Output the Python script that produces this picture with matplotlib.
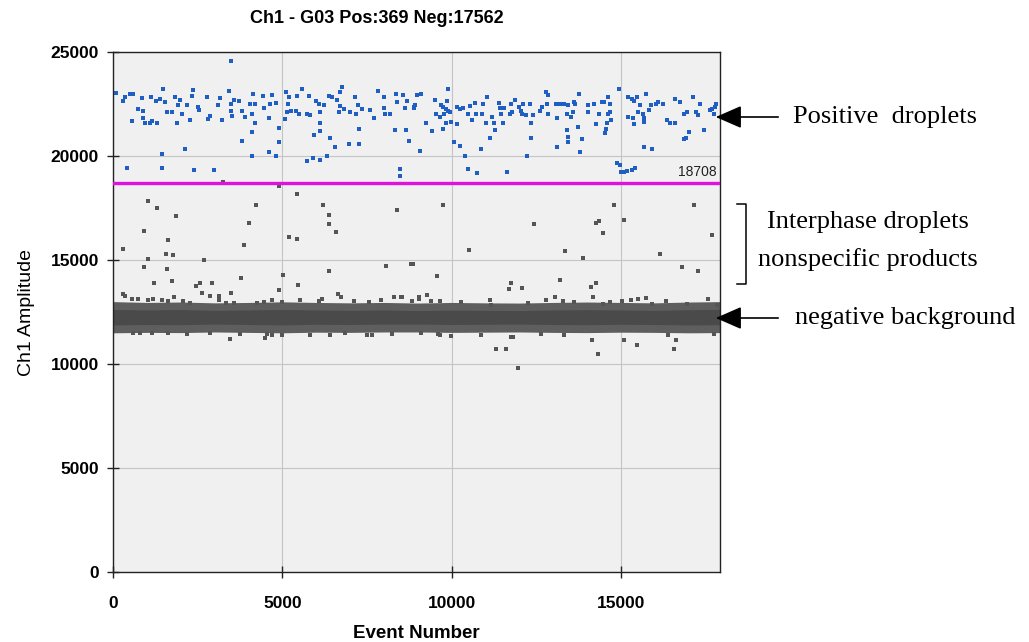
import matplotlib
matplotlib.use("Agg")
import matplotlib.pyplot as plt
import numpy as np

# ---------------- data ----------------
title = "Ch1 - G03 Pos:369 Neg:17562"
threshold = 18708
n_events = 17931

pos_x = [89, 286, 355, 503, 582, 553, 750, 848, 897, 897, 947, 1094, 1144, 1114, 1292, 1272, 1390, 1490, 1540, 1607,
         1736, 1835, 1933, 1983, 1884, 2032, 2200, 2278, 2327, 2377, 2525, 2555, 2771, 2820, 2870, 3116, 3166, 3215,
         3432, 3482, 3482, 3511, 3580, 3708, 3807, 3906, 4034, 4133, 4103, 4202, 4429, 4202, 4103, 3807, 4103, 3492,
         1460, 2130, 424, 1460, 2407, 2988,
         4468, 4695, 4626, 4823, 4600, 4892, 4892, 4600, 4823, 5079, 5108, 5158, 5207, 5138, 5256, 5434, 5404, 5503,
         5572, 5730, 5779, 5808, 6006, 6075, 6124, 6104, 6104, 5927, 6222, 6371, 6470, 6617, 6666, 6716, 6696, 6765,
         6814, 6992, 7159, 7228, 7189, 7356, 7258, 7258, 6963, 6420, 6568, 6321, 6104, 5907, 5730, 7603, 7721, 7820,
         7997, 8017, 8046, 8194, 8372, 8391, 8569, 8638, 8687, 8342, 8667, 8736, 8490, 8470, 8884,
         8985, 9083, 8907, 8887, 9232, 9429, 9065, 9498, 9528, 9676, 9656, 9744, 9774, 9824, 9892, 9873, 9892, 9952,
         9824, 9754, 9972, 10150, 10169, 10248, 10347, 10485, 10544, 10682, 10613, 10712, 10939, 10909, 11037, 11007,
         11205, 11254, 11274, 11136, 11402, 11432, 11471, 11530, 11550, 11728, 11767, 11866, 11797, 11994, 12047,
         12122, 12093, 12191, 12320, 12359, 12359, 12220, 11629, 12418, 12615, 12684, 12783, 12852, 12812, 12852,
         13078, 13206, 13108, 13108, 10071, 10248, 10386, 10879, 10485, 10742,
         13326, 13424, 13444, 13602, 13641, 13572, 13523, 13770, 13720, 13424, 13444, 13444, 13838, 13799, 14035,
         14015, 14193, 14262, 14361, 14430, 14508, 14607, 14686, 14627, 14686, 14706, 14588, 14558, 14528, 14952,
         15197, 15316, 15395, 15474, 15563, 15513, 15641, 15671, 15671, 15740, 15838, 15888, 16036, 16086, 16233,
         15197, 15346, 15395, 15671, 15908, 16371, 16440, 16608, 16737, 16588, 16864, 16963, 17002, 16933, 16864,
         17130, 17229, 17278, 17456, 17328, 17624, 17693, 17772, 17821, 17752, 14883, 14962, 15001, 15099, 15178,
         15326, 15425]
pos_y = [23047, 22634, 22840, 23000, 23000, 21700, 22280, 22790, 22150, 21810, 21600, 21570, 21680, 22840, 21600,
         22630, 22760, 23200, 22600, 22120, 22120, 22840, 22440, 22670, 21570, 22000, 22440, 21730, 22870, 23160,
         22360, 22230, 22840, 21800, 21920, 22440, 22790, 21730, 23120, 22520, 22150, 21930, 22670, 22630, 22150,
         21880, 22520, 23000, 22000, 22520, 22890, 21570, 21170, 20740, 20000, 24560,
         20120, 20360, 19440, 19440, 19310, 19310,
         22310, 22950, 22520, 22570, 21810, 21360, 20660, 20200, 20000, 21760, 23090, 22520, 22840, 22120, 22150,
         22890, 22150, 22040, 23210, 22000, 22890, 21960, 22630, 22520, 22120, 21570, 21200, 21000, 22440, 22890,
         22840, 22670, 22120, 22410, 23090, 23320, 22280, 22120, 22840, 22440, 22000, 22250, 21290, 20560, 20560,
         20880, 20450, 20000, 19810, 19890, 19760, 22200, 21810, 23120, 22840, 22310, 22040, 22040, 23000, 22600,
         22950, 22310, 22630, 21250, 21250, 20720, 19380, 19060, 22360,
         22950, 23000, 22440, 22310, 21570, 21200, 20250, 22670, 22000, 22440, 21880, 22360, 22040, 22280, 23210,
         22630, 22150, 22120, 21570, 21290, 21620, 21520, 22360, 22250, 22310, 22000, 22410, 22570, 21730, 22040,
         22490, 22040, 22840, 21570, 21880, 21570, 21250, 20880, 22570, 22310, 22000, 21570, 22310, 22000, 22520,
         22670, 22120, 22360, 22150, 22520, 22040, 21960, 22520, 21570, 20880, 20000, 19240, 21960, 22150, 22360,
         23090, 22920, 22520, 22000, 22490, 22520, 21810, 20450, 20680, 20470, 20000, 20320, 19380, 19170,
         22520, 22040, 22440, 22600, 22490, 22120, 21880, 23000, 21410, 21250, 20930, 20660, 20820, 20170, 22440,
         22120, 22520, 21520, 22040, 22600, 22600, 22840, 22520, 22040, 22120, 21730, 21570, 21290, 21090, 23230,
         22840, 22760, 22630, 22840, 22440, 22120, 22040, 21650, 21810, 23000, 22200, 22440, 22520, 22600, 22490,
         21880, 21810, 21520, 20450, 20360, 21730, 21570, 22760, 22600, 21570, 22040, 22120, 21170, 20880, 20820,
         22840, 22120, 21960, 21250, 22520, 22200, 22280, 22360, 22490, 22040, 19650, 19570, 19240, 19240, 19270,
         19310, 19430]

# interphase / outlying negative droplets
mid_x = [286, 1026, 1312, 1854, 927, 1637, 1568, 1765, 1046, 927, 1607, 1213, 1736, 2456, 2574, 2939, 2623, 2693,
         3777, 3876, 4024, 4231, 3492, 3117, 4911, 5434, 5187, 5434, 5010, 4911, 5473, 6203, 6380, 6380, 6597, 6380,
         8077, 8402, 8816, 3462, 4478, 3260,
         9755, 8857, 9578, 10514, 12437, 14262, 14361, 14460, 13345, 13868, 14785, 15080, 16165, 16796, 17170, 17683,
         17288, 13207, 14262, 14114, 11767, 11698, 12093, 11303, 14331, 16584, 15474, 15080, 16634, 14134, 11826,
         11955, 11600]
mid_y = [15550, 17820, 17500, 17130, 16410, 15980, 15290, 15230, 15060, 14660, 14590, 13910, 13990, 13730, 13910,
         13910, 13430, 14980, 14150, 15740, 16800, 17660, 13400, 13270, 18540, 18170, 16110, 16030, 14270, 13540,
         13790, 17660, 17180, 16740, 16350, 14470, 14710, 17420, 14790, 11190, 11270, 18750,
         17660, 14790, 14230, 15470, 16730, 16780, 16860, 16300, 15430, 15100, 17660, 16940, 15290, 14650, 17630,
         16220, 14460, 14020, 13910, 13700, 13910, 13590, 13670, 10710, 10480, 10710, 10920, 11140, 11150, 11150,
         11300, 9800, 10700]

# fringe droplets around the negative band
edge_x = [286, 355, 552, 750, 1046, 1193, 1440, 1637, 1805, 2081, 2278, 2870, 3117, 3344, 3561, 4251, 4449, 4695,
          4991, 5533, 6075, 6174, 6639, 6738, 7113, 7557, 7902, 8297, 8494, 8839, 9036,
          601, 799, 1144, 1637, 2180, 2870, 3758, 4547, 4695, 4991, 5829, 6420, 6864, 7505, 7653, 8245,
          8542, 9035, 9262, 9400, 9657, 10288, 11136, 11156, 12260, 12783, 13049, 13296, 13621, 14163, 14459,
          14686, 15021, 15297, 15514, 15741, 15909, 16333, 16954, 17585, 17842,
          9084, 9656, 9972, 10860, 11748, 12635, 13325, 16382, 17743, 9597]
edge_y = [13370, 13260, 13140, 13140, 13060, 13140, 13060, 13010, 13210, 13010, 12950, 13290, 13060, 12950, 12950,
          12950, 12980, 13060, 12980, 13060, 13010, 13140, 13370, 13210, 13010, 12980, 13060, 13210, 13210, 13010,
          13140,
          11510, 11510, 11510, 11510, 11460, 11510, 11430, 11460, 11400, 11400, 11400, 11400, 11510, 11400, 11400,
          11430,
          13210, 13210, 13320, 13010, 13010, 12980, 13060, 12850, 12950, 13060, 13210, 13010, 12980, 13210, 12900,
          12980, 13010, 13060, 13140, 13170, 12900, 13010, 12900, 13140, 12850,
          11510, 11400, 11350, 11400, 11300, 11460, 11400, 11400, 11460, 11460]

# envelope of the dense negative band
band_x = [0, 1000, 2000, 3000, 4000, 5000, 6000, 7000, 8000, 9000, 10000, 11000, 12000, 13000, 14000, 15000,
          16000, 17000, 17931]
band_top = [13000, 12960, 12980, 12940, 12960, 12990, 12960, 12940, 12960, 12930, 12960, 12940, 12930, 12960, 12980,
            12960, 12940, 12980, 13000]
band_bot = [11500, 11520, 11510, 11540, 11520, 11500, 11530, 11520, 11540, 11540, 11520, 11530, 11540, 11520,
            11510, 11530, 11520, 11500, 11510]
core_top = [12620, 12600, 12620, 12580, 12600, 12620, 12600, 12580, 12600, 12570, 12590, 12580, 12570, 12600,
            12610, 12600, 12580, 12610, 12630]
core_bot = [11880, 11900, 11890, 11920, 11900, 11880, 11910, 11900, 11920, 11920, 11900, 11910, 11920, 11900,
            11890, 11910, 11900, 11880, 11890]

# ---------------- figure ----------------
fig = plt.figure(figsize=(10.29, 6.42), dpi=100)
ax = fig.add_axes([0.1098, 0.109, 0.590, 0.810])
ax.set_facecolor("#f0f0f0")

ax.fill_between(band_x, band_bot, band_top, color="#5e5e5e", lw=0, zorder=2)
ax.fill_between(band_x, core_bot, core_top, color="#4a4a4a", lw=0, zorder=2)
ax.scatter(edge_x, edge_y, marker="s", s=11, color="#555555", lw=0, zorder=3)
ax.scatter(mid_x, mid_y, marker="s", s=11, color="#555555", lw=0, zorder=3)
ax.scatter(pos_x, pos_y, marker="s", s=11, color="#1f5fc4", lw=0, zorder=3)

ax.axhline(threshold, color="#e010e0", lw=2.4, zorder=4)
ax.text(n_events - 100, threshold + 180, str(threshold), ha="right", va="bottom",
        fontsize=10, color="#222222", family="Liberation Sans", zorder=5)

ax.set_xlim(0, n_events)
ax.set_ylim(0, 25000)
ax.set_xticks([0, 5000, 10000, 15000])
ax.set_yticks([0, 5000, 10000, 15000, 20000, 25000])
ax.grid(True, color="#c4c4c4", lw=0.8, zorder=0)
ax.set_axisbelow(True)
for s in ax.spines.values():
    s.set_color("#222222")
    s.set_linewidth(1.0)
ax.tick_params(axis="both", direction="inout", length=8, width=1, color="#222222")
ax.tick_params(axis="y", pad=6)
ax.tick_params(axis="x", pad=13)
ax.tick_params(axis="both", labelsize=12.5)
for lab in ax.get_xticklabels() + ax.get_yticklabels():
    lab.set_fontweight("bold")
    lab.set_family("Liberation Sans")

ax.set_title(title, fontsize=13, fontweight="bold", family="Liberation Sans",
             pad=21, x=0.435)
ax.set_xlabel("Event Number", fontsize=13.5, fontweight="bold",
              family="Liberation Sans", labelpad=10)
ax.set_ylabel("Ch1 Amplitude", fontsize=14, family="Liberation Sans", labelpad=11)

# annotations on the right
serif = "Liberation Serif"
fs = 19
fig.text(793 / 1029, 1 - 117 / 642, "Positive  droplets", fontsize=fs, family=serif, va="center", ha="left")
fig.text(868 / 1029, 1 - 222 / 642, "Interphase droplets", fontsize=fs, family=serif, va="center", ha="center")
fig.text(868 / 1029, 1 - 260 / 642, "nonspecific products", fontsize=fs, family=serif, va="center", ha="center")
fig.text(795 / 1029, 1 - 318 / 642, "negative background", fontsize=fs, family=serif, va="center", ha="left")

fig.add_artist(matplotlib.patches.FancyArrowPatch((781 / 1029, 1 - 117 / 642), (713 / 1029, 1 - 117 / 642),
               transform=fig.transFigure, arrowstyle="-|>,head_length=16,head_width=7", color="black",
               lw=1.2, mutation_scale=1))
fig.add_artist(matplotlib.patches.FancyArrowPatch((781 / 1029, 1 - 318 / 642), (713 / 1029, 1 - 318 / 642),
               transform=fig.transFigure, arrowstyle="-|>,head_length=16,head_width=7", color="black",
               lw=1.2, mutation_scale=1))
bx = [737 / 1029, 746 / 1029, 746 / 1029, 737 / 1029]
by = [1 - 204 / 642, 1 - 204 / 642, 1 - 284 / 642, 1 - 284 / 642]
fig.add_artist(matplotlib.lines.Line2D(bx, by, color="black", lw=1.1, transform=fig.transFigure))

fig.savefig("out.png", dpi=100)
